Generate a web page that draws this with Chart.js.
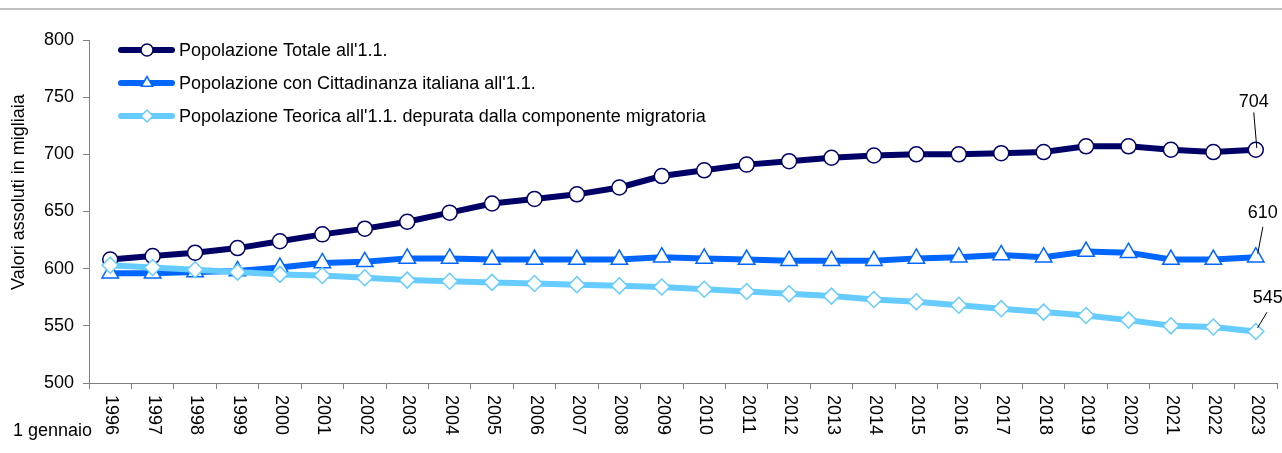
<!DOCTYPE html>
<html>
<head>
<meta charset="utf-8">
<script src="https://cdn.jsdelivr.net/npm/chart.js@4/dist/chart.umd.min.js"></script>
<style>
  body { margin: 0; background: #fff; }
  #wrap { width: 1282px; height: 453px; position: relative; }
</style>
</head>
<body>
<div id="wrap"><canvas id="grafico" width="1282" height="453"></canvas></div>
<script>
const anni = [
  "1996","1997","1998","1999","2000","2001","2002","2003","2004","2005",
  "2006","2007","2008","2009","2010","2011","2012","2013","2014","2015",
  "2016","2017","2018","2019","2020","2021","2022","2023"
];
const popTotale = [608, 611, 614, 618, 624, 630, 635, 641, 649, 657, 661, 665, 671, 681,
  686, 691, 694, 697, 699, 700, 700, 701, 702, 707, 707, 704, 702, 704];
const popCittadini = [596, 596, 597, 598, 601, 605, 606, 609, 609, 608, 608, 608, 608, 610,
  609, 608, 607, 607, 607, 609, 610, 612, 610, 615, 614, 608, 608, 610];
const popTeorica = [603, 601, 599, 597, 595, 594, 592, 590, 589, 588, 587, 586, 585, 584,
  582, 580, 578, 576, 573, 571, 568, 565, 562, 559, 555, 550, 549, 545];
const yTicks = [500, 550, 600, 650, 700, 750, 800];
const etichette = [
  "Popolazione Totale all'1.1.",
  "Popolazione con Cittadinanza italiana all'1.1.",
  "Popolazione Teorica all'1.1. depurata dalla componente migratoria"
];

const FONT = '"Liberation Sans", Arial, sans-serif';
const colori = ["#000066", "#0066ff", "#66ccff"];
const stili = ["circle", "triangle", "rectRot"];

// decorazioni: linea grigia in alto, legenda, etichette anni, valori finali
const decorazioni = {
  id: "decorazioni",
  afterDraw(chart) {
    const ctx = chart.ctx;
    const x = chart.scales.x, y = chart.scales.y;
    ctx.save();

    // linea grigia in alto
    ctx.strokeStyle = "#bfbfbf";
    ctx.lineWidth = 2;
    ctx.beginPath();
    ctx.moveTo(0, 9); ctx.lineTo(1282, 9);
    ctx.stroke();

    // legenda
    const righe = [50, 83, 116];
    chart.data.datasets.forEach((ds, i) => {
      ctx.strokeStyle = colori[i];
      ctx.lineWidth = 6;
      ctx.lineCap = "round";
      ctx.beginPath();
      ctx.moveTo(121, righe[i]); ctx.lineTo(172, righe[i]);
      ctx.stroke();
      ctx.fillStyle = "#fff";
      ctx.strokeStyle = colori[i];
      ctx.lineWidth = 1.5;
      Chart.helpers.drawPoint(ctx, { pointStyle: stili[i], radius: i === 1 ? 6.5 : 6, rotation: 0, borderWidth: 1.5 }, 147, righe[i]);
      ctx.fillStyle = "#000";
      ctx.font = "18px " + FONT;
      ctx.textAlign = "left";
      ctx.textBaseline = "middle";
      ctx.fillText(etichette[i], 179, righe[i] + 1);
    });

    // anni ruotati
    ctx.fillStyle = "#000";
    ctx.font = "18px " + FONT;
    anni.forEach((a, i) => {
      const px = x.getPixelForValue(i);
      ctx.save();
      ctx.translate(px + 1, 395);
      ctx.rotate(Math.PI / 2);
      ctx.textAlign = "left";
      ctx.textBaseline = "middle";
      ctx.fillText(a, 0, 0);
      ctx.restore();
    });
    ctx.textAlign = "left";
    ctx.textBaseline = "middle";
    ctx.fillText("1 gennaio", 13, 431);

    // titolo asse y
    ctx.save();
    ctx.translate(19, 192);
    ctx.rotate(-Math.PI / 2);
    ctx.textAlign = "center";
    ctx.textBaseline = "middle";
    ctx.fillText("Valori assoluti in migliaia", 0, 0);
    ctx.restore();

    // valori finali con linee guida
    const ultimo = anni.length - 1;
    const off = [
      { tx: -2, ty: -48, l1: [-2, -37], l2: [1, -2] },
      { tx: 7, ty: -44, l1: [7, -30], l2: [2, -4] },
      { tx: 12, ty: -34, l1: [11, -19], l2: [2, -4] }
    ];
    chart.data.datasets.forEach((ds, i) => {
      const px = x.getPixelForValue(ultimo);
      const py = y.getPixelForValue(ds.data[ultimo]);
      const o = off[i];
      ctx.fillStyle = "#000";
      ctx.textAlign = "center";
      ctx.fillText(String(ds.data[ultimo]), px + o.tx, py + o.ty);
      ctx.strokeStyle = "#000";
      ctx.lineWidth = 1;
      ctx.beginPath();
      ctx.moveTo(px + o.l1[0], py + o.l1[1]);
      ctx.lineTo(px + o.l2[0], py + o.l2[1]);
      ctx.stroke();
    });

    ctx.restore();
  }
};

function serie(label, data, i, r) {
  return {
    label: label,
    data: data,
    borderColor: colori[i],
    borderWidth: 6,
    tension: 0,
    pointStyle: stili[i],
    pointRadius: r,
    pointBackgroundColor: "#fff",
    pointBorderColor: colori[i],
    pointBorderWidth: 1.5,
    order: 2 - i,
    clip: false
  };
}

new Chart(document.getElementById("grafico"), {
  type: "line",
  data: {
    labels: anni,
    datasets: [
      serie(etichette[0], popTotale, 0, 7.5),
      serie(etichette[1], popCittadini, 1, 9.5),
      serie(etichette[2], popTeorica, 2, 8)
    ]
  },
  options: {
    responsive: false,
    animation: false,
    layout: { autoPadding: false, padding: { left: 0, top: 40, right: 5, bottom: 0 } },
    plugins: { legend: { display: false }, tooltip: { enabled: false } },
    scales: {
      x: {
        offset: true,
        grid: { offset: true, drawOnChartArea: false, drawTicks: true, tickLength: 6, color: "#808080" },
        border: { color: "#808080", width: 1 },
        ticks: { display: false },
        afterFit(s) { s.height = 70; }
      },
      y: {
        min: 500,
        max: 800,
        afterBuildTicks(s) { s.ticks = yTicks.map(v => ({ value: v })); },
        grid: { drawOnChartArea: false, drawTicks: true, tickLength: 6, color: "#808080" },
        border: { color: "#808080", width: 1 },
        ticks: { color: "#000", padding: 9, font: { family: FONT, size: 18 } },
        afterFit(s) { s.width = 89; }
      }
    }
  },
  plugins: [decorazioni]
});
</script>
</body>
</html>
